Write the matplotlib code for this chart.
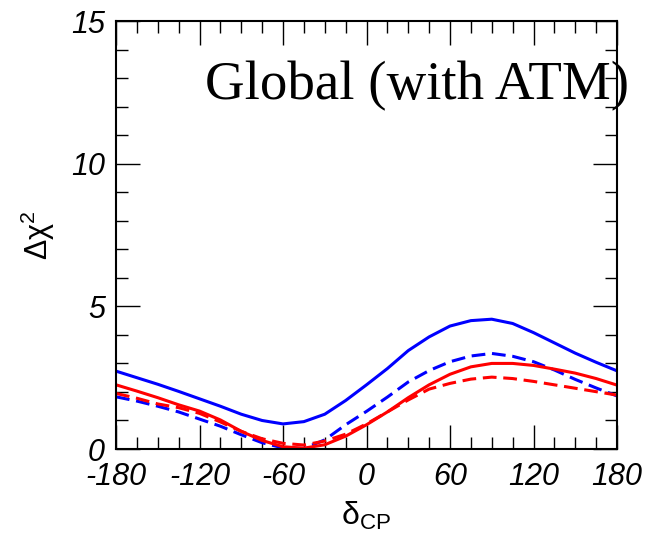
import numpy as np
import matplotlib
matplotlib.use("Agg")
import matplotlib.pyplot as plt
from matplotlib.ticker import MultipleLocator

plt.rcParams['font.family'] = ['Liberation Sans', 'DejaVu Sans']
plt.rcParams['mathtext.fontset'] = 'custom'
plt.rcParams['mathtext.rm'] = 'Liberation Sans'
plt.rcParams['mathtext.it'] = 'Liberation Sans:italic'
plt.rcParams['axes.unicode_minus'] = False

# === DATA ===
delta_cp = [-180, -165, -150, -135, -120, -105, -90, -75, -60, -45, -30, -15,
            0, 15, 30, 45, 60, 75, 90, 105, 120, 135, 150, 165, 180]

blue_solid = [2.73, 2.50, 2.27, 2.02, 1.76, 1.50, 1.22, 1.00, 0.88, 0.96, 1.22, 1.70,
              2.25, 2.82, 3.45, 3.93, 4.31, 4.50, 4.55, 4.40, 4.08, 3.72, 3.36, 3.04, 2.74]
blue_dashed = [1.83, 1.68, 1.50, 1.30, 1.05, 0.80, 0.50, 0.22, 0.04, 0.02, 0.32, 0.85,
               1.32, 1.82, 2.35, 2.75, 3.06, 3.26, 3.35, 3.25, 3.06, 2.77, 2.44, 2.14, 1.86]
red_solid = [2.25, 2.03, 1.80, 1.55, 1.33, 1.02, 0.62, 0.30, 0.08, 0.03, 0.15, 0.45,
             0.85, 1.30, 1.80, 2.25, 2.62, 2.88, 3.00, 3.00, 2.93, 2.80, 2.66, 2.47, 2.24]
red_dashed = [1.95, 1.78, 1.58, 1.45, 1.25, 0.95, 0.62, 0.36, 0.20, 0.14, 0.28, 0.52,
              0.88, 1.30, 1.72, 2.10, 2.30, 2.45, 2.52, 2.47, 2.37, 2.25, 2.13, 2.01, 1.89]

x_ticks = [-180, -120, -60, 0, 60, 120, 180]
y_ticks = [0, 5, 10, 15]

# === PLOT ===
fig = plt.figure(figsize=(6.58, 5.35), dpi=100)
ax = fig.add_axes([0.1763, 0.1607, 0.7614, 0.8])

lw = 2.2
ax.plot(delta_cp, blue_solid, color='#0000ff', lw=lw)
ax.plot(delta_cp, blue_dashed, color='#0000ff', lw=lw, dashes=(4.5, 2.2))
ax.plot(delta_cp, red_solid, color='#ff0000', lw=lw)
ax.plot(delta_cp, red_dashed, color='#ff0000', lw=lw, dashes=(4.5, 2.2))

ax.set_xlim(-180, 180)
ax.set_ylim(0, 15)
ax.set_xticks(x_ticks)
ax.set_yticks(y_ticks)
ax.xaxis.set_minor_locator(MultipleLocator(15))
ax.yaxis.set_minor_locator(MultipleLocator(1))

ax.tick_params(which='both', direction='in', top=True, right=True, width=1.0)
ax.tick_params(which='major', length=17, labelsize=22)
ax.tick_params(which='minor', length=8.5)
ax.tick_params(axis='x', which='major', pad=9)
ax.tick_params(axis='y', which='major', pad=8)

for lab in ax.get_xticklabels() + ax.get_yticklabels():
    lab.set_fontstyle('italic')

for sp in ax.spines.values():
    sp.set_linewidth(1.5)

ax.set_ylabel(r'$\mathregular{\Delta\chi^{2}}$', fontsize=22)
ax.yaxis.set_label_coords(-0.118, 0.5)
ax.set_xlabel(r'$\mathregular{\delta_{CP}}$', fontsize=23)
ax.xaxis.set_label_coords(0.5, -0.118)

ax.text(0.178, 0.818, 'Global (with ATM)', transform=ax.transAxes,
        fontsize=39.5, family='Liberation Serif', ha='left', va='baseline',
        clip_on=False)

fig.savefig('out.png', dpi=100)
